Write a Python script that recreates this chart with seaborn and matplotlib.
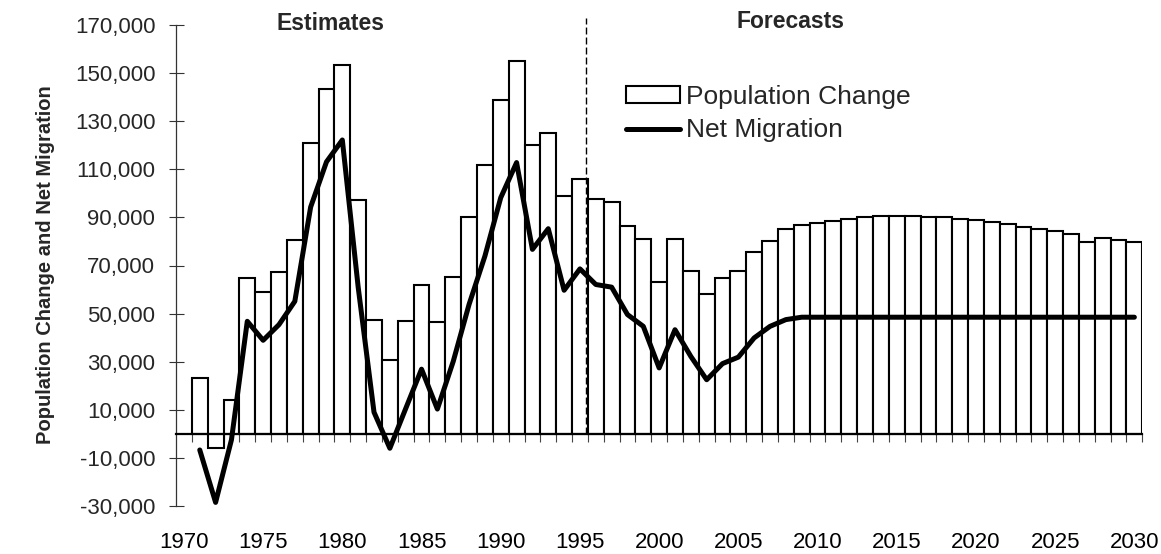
import matplotlib
matplotlib.use("Agg")
import matplotlib.pyplot as plt
from matplotlib.patches import Patch
from matplotlib.lines import Line2D
from matplotlib.ticker import FixedLocator, FuncFormatter
import seaborn as sns
import pandas as pd

# ---------------- data ----------------
years = list(range(1971, 2031))
population_change = [
    23200, -6000, 14200, 64600, 59000, 67200, 80700, 121100, 143300, 153300,
    97400, 47400, 30800, 47100, 61900, 46500, 65100, 90000, 111700, 139000,
    155000, 120000, 124900, 98900, 105800, 97800, 96300, 86500, 81100, 63200,
    81000, 67900, 58300, 65000, 67800, 75600, 80100, 85000, 86800, 87800,
    88600, 89300, 90100, 90600, 90700, 90700, 90300, 90000, 89500, 88900,
    88200, 87200, 86100, 85300, 84300, 83200, 79600, 81300, 80400, 79600,
]
net_migration = [
    -6700, -28500, -2500, 46800, 38900, 45400, 55100, 94300, 113100, 122200,
    61000, 9000, -6000, 10500, 26900, 10300, 30100, 53800, 73900, 98200,
    112800, 76700, 85300, 59700, 68600, 62100, 61000, 49600, 44700, 27400,
    43300, 32200, 22500, 29200, 31900, 39900, 44700, 47500, 48500, 48500,
    48500, 48500, 48500, 48500, 48500, 48500, 48500, 48500, 48500, 48500,
    48500, 48500, 48500, 48500, 48500, 48500, 48500, 48500, 48500, 48500,
]
year_tick_labels = ["1970", "1975", "1980", "1985", "1990", "1995", "2000",
                    "2005", "2010", "2015", "2020", "2025", "2030"]
y_ticks = [-30000, -10000, 10000, 30000, 50000, 70000, 90000, 110000,
           130000, 150000, 170000]
section_labels = ["Estimates", "Forecasts"]
series_names = ["Population Change", "Net Migration"]
y_label = "Population Change and Net Migration"
forecast_start = 1995.4

df = pd.DataFrame({"year": years, "pop": population_change, "mig": net_migration})

# ---------------- style ----------------
sns.set_style("white")
plt.rcParams["font.family"] = ["Liberation Sans", "DejaVu Sans"]

W, H = 1161, 554
fig = plt.figure(figsize=(W / 100, H / 100), dpi=100)
ax = fig.add_axes([176 / W, 1 - 506 / H, (1142.3 - 176) / W, (506 - 25) / H])

sns.barplot(data=df, x="year", y="pop", native_scale=True, width=1.0,
            color="white", edgecolor="black", linewidth=1.5, ax=ax,
            zorder=2, errorbar=None)
for p in ax.patches:
    p.set_facecolor("white")

ax.axvline(forecast_start, ymin=0.15, ymax=1.015, color="black", lw=1.0,
           linestyle=(0, (5, 2.2)), zorder=3, clip_on=False)

sns.lineplot(data=df, x="year", y="mig", color="black", linewidth=3.6,
             ax=ax, zorder=4, sort=False)

ax.set_xlim(1969.5, 2030.5)
ax.set_ylim(-30000, 170000)

# spines
for s in ["top", "right"]:
    ax.spines[s].set_visible(False)
ax.spines["bottom"].set_position(("data", 0))
ax.spines["bottom"].set_linewidth(1.6)
ax.spines["bottom"].set_color("black")
ax.spines["bottom"].set_zorder(5)
ax.spines["left"].set_linewidth(0.9)
ax.spines["left"].set_color("#333333")

# x ticks
major_x = [int(t) for t in year_tick_labels]
ax.set_xticks(major_x)
ax.set_xticklabels(year_tick_labels)
ax.xaxis.set_minor_locator(FixedLocator([y - 0.5 for y in years] + [years[-1] + 0.5]))
ax.tick_params(axis="x", which="major", length=0, pad=71, labelsize=16,
               colors="black")
ax.tick_params(axis="x", which="minor", length=5.5, width=0.8, direction="out",
               color="#444444", bottom=True)

# y ticks
ax.set_yticks(y_ticks)
ax.yaxis.set_major_formatter(FuncFormatter(lambda v, _: f"{int(v):,}"))
ax.tick_params(axis="y", which="major", length=10.8, width=0.8,
               direction="inout", pad=9.5, labelsize=16, color="#333333",
               left=True)
ax.set_xlabel("")
ax.set_ylabel("")

fig.text(46 / W, 1 - 265 / H, y_label, rotation=90, ha="center", va="center",
         fontsize=14.5, fontweight="bold")
fig.text(331 / W, 1 - 24 / H, section_labels[0], ha="center", va="center",
         fontsize=16.5, fontweight="bold")
fig.text(791 / W, 1 - 22 / H, section_labels[1], ha="center", va="center",
         fontsize=16.5, fontweight="bold")

handles = [Patch(facecolor="white", edgecolor="black", linewidth=1.5),
           Line2D([0], [0], color="black", linewidth=3.6)]
fig.legend(handles, series_names, loc="upper left",
           bbox_to_anchor=(626 / W, 1 - 85 / H), frameon=False, fontsize=19,
           handlelength=2.05, handleheight=0.63, handletextpad=0.23,
           labelspacing=0.36, borderpad=0, borderaxespad=0)

fig.savefig("out.png", dpi=100)
